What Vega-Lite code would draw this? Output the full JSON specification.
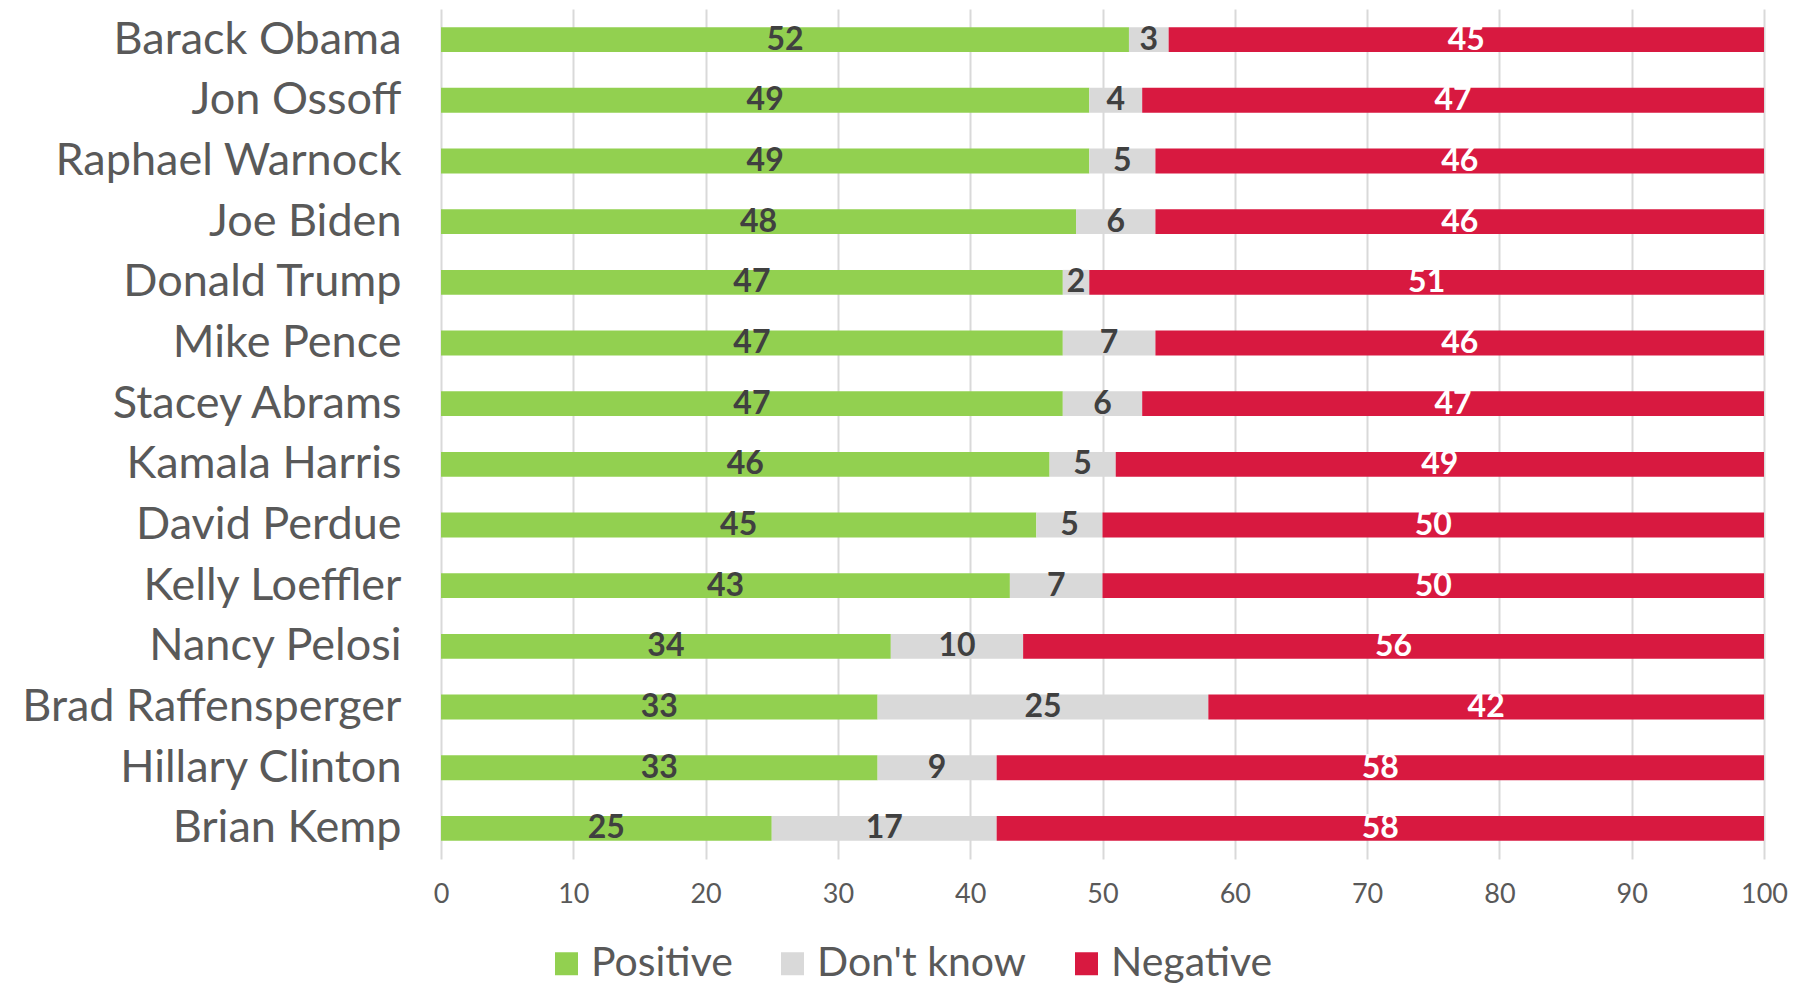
{
  "$schema": "https://vega.github.io/schema/vega-lite/v6.json",
  "width": 1323,
  "height": 850,
  "autosize": "none",
  "padding": {"left": 441, "top": 9, "right": 42, "bottom": 128},
  "background": "white",
  "config": {"view": {"stroke": null}, "font": "Lato"},
  "data": {"values": [
    {"name": "Barack Obama", "cat": "Positive", "ord": 1, "val": 52},
    {"name": "Barack Obama", "cat": "Don't know", "ord": 2, "val": 3},
    {"name": "Barack Obama", "cat": "Negative", "ord": 3, "val": 45},
    {"name": "Jon Ossoff", "cat": "Positive", "ord": 1, "val": 49},
    {"name": "Jon Ossoff", "cat": "Don't know", "ord": 2, "val": 4},
    {"name": "Jon Ossoff", "cat": "Negative", "ord": 3, "val": 47},
    {"name": "Raphael Warnock", "cat": "Positive", "ord": 1, "val": 49},
    {"name": "Raphael Warnock", "cat": "Don't know", "ord": 2, "val": 5},
    {"name": "Raphael Warnock", "cat": "Negative", "ord": 3, "val": 46},
    {"name": "Joe Biden", "cat": "Positive", "ord": 1, "val": 48},
    {"name": "Joe Biden", "cat": "Don't know", "ord": 2, "val": 6},
    {"name": "Joe Biden", "cat": "Negative", "ord": 3, "val": 46},
    {"name": "Donald Trump", "cat": "Positive", "ord": 1, "val": 47},
    {"name": "Donald Trump", "cat": "Don't know", "ord": 2, "val": 2},
    {"name": "Donald Trump", "cat": "Negative", "ord": 3, "val": 51},
    {"name": "Mike Pence", "cat": "Positive", "ord": 1, "val": 47},
    {"name": "Mike Pence", "cat": "Don't know", "ord": 2, "val": 7},
    {"name": "Mike Pence", "cat": "Negative", "ord": 3, "val": 46},
    {"name": "Stacey Abrams", "cat": "Positive", "ord": 1, "val": 47},
    {"name": "Stacey Abrams", "cat": "Don't know", "ord": 2, "val": 6},
    {"name": "Stacey Abrams", "cat": "Negative", "ord": 3, "val": 47},
    {"name": "Kamala Harris", "cat": "Positive", "ord": 1, "val": 46},
    {"name": "Kamala Harris", "cat": "Don't know", "ord": 2, "val": 5},
    {"name": "Kamala Harris", "cat": "Negative", "ord": 3, "val": 49},
    {"name": "David Perdue", "cat": "Positive", "ord": 1, "val": 45},
    {"name": "David Perdue", "cat": "Don't know", "ord": 2, "val": 5},
    {"name": "David Perdue", "cat": "Negative", "ord": 3, "val": 50},
    {"name": "Kelly Loeffler", "cat": "Positive", "ord": 1, "val": 43},
    {"name": "Kelly Loeffler", "cat": "Don't know", "ord": 2, "val": 7},
    {"name": "Kelly Loeffler", "cat": "Negative", "ord": 3, "val": 50},
    {"name": "Nancy Pelosi", "cat": "Positive", "ord": 1, "val": 34},
    {"name": "Nancy Pelosi", "cat": "Don't know", "ord": 2, "val": 10},
    {"name": "Nancy Pelosi", "cat": "Negative", "ord": 3, "val": 56},
    {"name": "Brad Raffensperger", "cat": "Positive", "ord": 1, "val": 33},
    {"name": "Brad Raffensperger", "cat": "Don't know", "ord": 2, "val": 25},
    {"name": "Brad Raffensperger", "cat": "Negative", "ord": 3, "val": 42},
    {"name": "Hillary Clinton", "cat": "Positive", "ord": 1, "val": 33},
    {"name": "Hillary Clinton", "cat": "Don't know", "ord": 2, "val": 9},
    {"name": "Hillary Clinton", "cat": "Negative", "ord": 3, "val": 58},
    {"name": "Brian Kemp", "cat": "Positive", "ord": 1, "val": 25},
    {"name": "Brian Kemp", "cat": "Don't know", "ord": 2, "val": 17},
    {"name": "Brian Kemp", "cat": "Negative", "ord": 3, "val": 58}
  ]},
  "transform": [
    {"stack": "val", "groupby": ["name"], "sort": [{"field": "ord", "order": "ascending"}], "as": ["v0", "v1"]}
  ],
  "encoding": {
    "y": {
      "field": "name", "type": "nominal", "sort": null,
      "scale": {"paddingInner": 0.59, "paddingOuter": 0.3},
      "axis": {"title": null, "ticks": false, "domain": false, "labelFontSize": 45, "labelColor": "#595959", "labelPadding": 40, "labelFont": "Lato", "labelLimit": 0}
    }
  },
  "layer": [
    {
      "mark": {"type": "bar"},
      "encoding": {
        "x": {
          "field": "v0", "type": "quantitative",
          "scale": {"domain": [0, 100], "nice": false},
          "axis": {"title": null, "values": [0,10,20,30,40,50,60,70,80,90,100], "ticks": false, "domain": false, "grid": true, "gridColor": "#D9D9D9", "gridWidth": 2, "labelFontSize": 27, "labelColor": "#595959", "labelPadding": 22, "labelFont": "Lato", "labelFlush": false}
        },
        "x2": {"field": "v1"},
        "color": {
          "field": "cat", "type": "nominal",
          "scale": {"domain": ["Positive", "Don't know", "Negative"], "range": ["#92D050", "#D9D9D9", "#D81940"]},
          "legend": {"title": null, "orient": "none", "direction": "horizontal", "legendX": 105, "legendY": 934, "symbolType": "square", "symbolSize": 529, "symbolStrokeWidth": 0, "labelFontSize": 41, "labelColor": "#595959", "labelOffset": 4, "columnPadding": 39, "labelFont": "Lato", "labelLimit": 0}
        }
      }
    },
    {
      "transform": [{"fold": ["v0", "v1"], "as": ["edge", "pos"]}],
      "mark": {"type": "text", "fontSize": 32, "fontWeight": "bold", "font": "Lato", "baseline": "middle", "align": "center"},
      "encoding": {
        "x": {"field": "pos", "aggregate": "mean", "type": "quantitative"},
        "detail": {"field": "cat"},
        "text": {"field": "val", "type": "quantitative"},
        "color": {
          "condition": {"test": "datum.cat === 'Negative'", "value": "#FFFFFF"},
          "value": "#404040"
        }
      }
    }
  ]
}
